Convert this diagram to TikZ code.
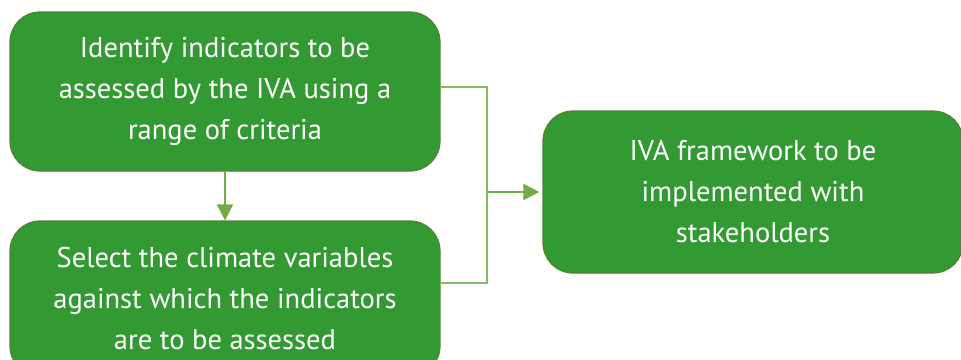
\documentclass[tikz,border=0pt]{standalone}
\usepackage{fontspec}
\setmainfont{PT Sans}
\usetikzlibrary{arrows.meta,positioning,calc}
\definecolor{boxfill}{HTML}{339933}
\definecolor{boxline}{HTML}{548235}
\definecolor{linkgreen}{HTML}{70AD47}
\tikzset{
  stepbox/.style={rectangle, rounded corners=30pt, draw=boxline, line width=1.2pt, fill=boxfill,
               align=center, text=white, font=\fontsize{28.5}{41}\selectfont,
               minimum width=430pt, minimum height=159pt},
  arr/.style={-{Triangle[length=16pt,width=16pt]}, line width=2pt, draw=linkgreen},
  brace/.style={line width=1.5pt, draw=linkgreen!85},
}
\begin{document}
\begin{tikzpicture}[x=1pt,y=-1pt]
     \useasboundingbox (0,0) rectangle (961,359);
     \node[stepbox] (a) at (225,91.5) {Identify indicators to be\\assessed by the IVA using a\\range of criteria};
     \node[stepbox, minimum height=155pt] (b) at (225,298.5) {Select the climate variables\\against which the indicators\\are to be assessed};
     \node[stepbox, minimum width=420pt, minimum height=162pt] (c) at (753,192) {IVA framework to be\\implemented with\\stakeholders};
     \coordinate (j) at (487,192);
     \draw[arr](a)--(b);
     \draw[brace]([yshift=4.5pt]a.east) -| (j) |- ([yshift=15.5pt]b.east);
     \draw[arr](j)--([xshift=-3pt]c.west);
   \end{tikzpicture}
\end{document}
